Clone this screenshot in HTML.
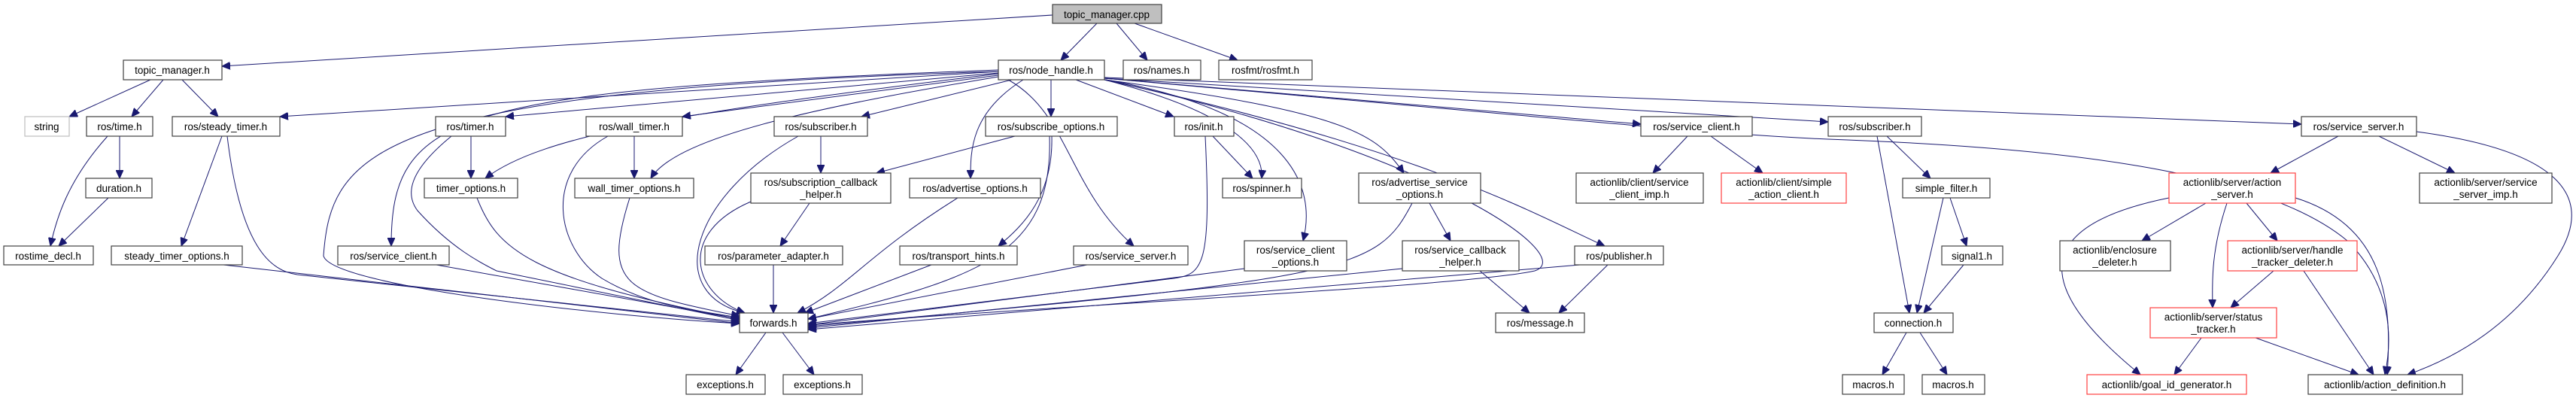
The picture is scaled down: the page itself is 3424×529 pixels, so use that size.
<!DOCTYPE html>
<html><head><meta charset="utf-8"><style>
html,body{margin:0;padding:0;background:#fff;}
svg{display:block;}
text{font-family:"Liberation Sans","DejaVu Sans",sans-serif;font-size:13.5px;fill:#000;}
.n{fill:#fff;stroke:#404040;stroke-width:1.2;}
.r{fill:#fff;stroke:#ff4040;stroke-width:1.2;}
.g{fill:#fff;stroke:#bfbfbf;stroke-width:1.2;}
.c{fill:#bfbfbf;stroke:#404040;stroke-width:1.2;}
path{fill:none;stroke:#191970;stroke-width:1;}
</style></head><body>
<svg width="3424" height="529" viewBox="0 0 3424 529" xmlns="http://www.w3.org/2000/svg">
<defs><marker id="a" markerUnits="userSpaceOnUse" markerWidth="12" markerHeight="10" refX="11" refY="5" orient="auto"><polygon points="0,0 11,5 0,10" fill="#191970" stroke="#191970"/></marker></defs>
<g marker-end="url(#a)">
<path d="M1399,20 L295,88"/>
<path d="M1458,31 L1410,80"/>
<path d="M1484,31 L1525,80"/>
<path d="M1508,31 L1645,80"/>
<path d="M200,106 L92,155"/>
<path d="M217,106 L175,155"/>
<path d="M242,106 L290,155"/>
<path d="M159,181 L159,237"/>
<path d="M143,181 C90,240 75,290 67,327"/>
<path d="M144,263 L78,327"/>
<path d="M295,181 L241,327"/>
<path d="M302,181 C320,330 360,360 395,365 L983,428"/>
<path d="M297,352 L983,430"/>
<path d="M626,181 L626,237"/>
<path d="M600,181 C540,230 540,260 555,280 C600,330 640,350 660,360 L983,426"/>
<path d="M634,263 C660,330 700,370 983,424"/>
<path d="M843,181 L843,237"/>
<path d="M808,181 C720,230 740,330 800,370 C850,400 900,410 983,422"/>
<path d="M837,263 C800,380 830,390 983,420"/>
<path d="M1091,181 L1091,230"/>
<path d="M1061,181 C920,260 880,390 990,416"/>
<path d="M1349,181 L1165,230"/>
<path d="M1398,181 C1400,260 1360,300 1327,327"/>
<path d="M1395,181 C1400,340 1300,370 1074,424"/>
<path d="M1076,270 L1037,327"/>
<path d="M998,268 C900,310 920,390 990,416"/>
<path d="M1028,352 L1028,416"/>
<path d="M1273,263 C1150,340 1130,380 1060,416"/>
<path d="M1238,352 L1070,416"/>
<path d="M1327,95 L372,155"/>
<path d="M1327,97 L672,155"/>
<path d="M1327,100 L907,155"/>
<path d="M1345,106 L1145,155"/>
<path d="M1397,106 L1397,155"/>
<path d="M1327,98 C900,150 720,180 645,237"/>
<path d="M1327,102 C1100,140 900,180 865,237"/>
<path d="M1327,93 C600,120 520,150 520,327"/>
<path d="M1327,95 C500,120 440,200 430,340 C440,380 800,420 983,430"/>
<path d="M1360,106 C1290,150 1290,200 1290,237"/>
<path d="M1340,106 C1420,150 1420,250 1507,327"/>
<path d="M1430,106 L1560,155"/>
<path d="M1468,106 C1640,150 1680,200 1677,237"/>
<path d="M1470,106 C1720,150 1750,250 1732,320"/>
<path d="M1468,106 C1800,150 1830,180 1866,230"/>
<path d="M1468,104 L2181,165"/>
<path d="M1468,104 L2430,162"/>
<path d="M1468,103 L3059,165"/>
<path d="M1468,106 C1900,200 2050,290 2133,327"/>
<path d="M1468,106 C1900,200 2100,340 2040,360 C1950,380 1500,400 1074,432"/>
<path d="M1468,104 C2100,160 2300,180 2430,185 C2700,195 3000,220 3120,320 C3180,380 3180,450 3170,498"/>
<path d="M1612,181 L1665,237"/>
<path d="M1602,181 C1610,350 1600,365 1560,370 L1074,430"/>
<path d="M1445,352 L1074,424"/>
<path d="M580,352 L983,424"/>
<path d="M1654,357 L1074,432"/>
<path d="M1877,270 C1830,360 1800,370 1074,434"/>
<path d="M1900,270 L1928,320"/>
<path d="M1864,357 L1074,436"/>
<path d="M1967,360 L2033,416"/>
<path d="M2100,352 L1074,438"/>
<path d="M2137,352 L2072,416"/>
<path d="M1018,442 L978,498"/>
<path d="M1040,442 L1082,498"/>
<path d="M2243,181 L2197,230"/>
<path d="M2274,181 L2343,230"/>
<path d="M2495,181 L2538,416"/>
<path d="M2508,181 L2566,237"/>
<path d="M2583,263 L2548,416"/>
<path d="M2592,263 L2614,327"/>
<path d="M2610,352 L2557,416"/>
<path d="M2534,442 L2502,498"/>
<path d="M2552,442 L2588,498"/>
<path d="M3108,181 L3018,230"/>
<path d="M3162,181 L3263,230"/>
<path d="M3212,175 C3400,200 3450,260 3400,340 C3350,420 3280,470 3200,498"/>
<path d="M2932,270 L2847,320"/>
<path d="M2986,270 L3027,320"/>
<path d="M2960,270 C2940,330 2940,370 2941,409"/>
<path d="M3051,263 C3170,300 3180,400 3173,498"/>
<path d="M2883,263 C2700,300 2700,380 2845,498"/>
<path d="M3022,360 L2965,409"/>
<path d="M3062,360 L3155,498"/>
<path d="M2926,449 L2890,498"/>
<path d="M2998,449 L3135,498"/>
</g>
<g text-anchor="middle">
<rect class="c" x="1399" y="6" width="145" height="25"/><text x="1471" y="24">topic_manager.cpp</text>
<rect class="n" x="164" y="80" width="131" height="26"/><text x="229" y="98">topic_manager.h</text>
<rect class="n" x="1327" y="80" width="141" height="26"/><text x="1397" y="98">ros/node_handle.h</text>
<rect class="n" x="1493" y="80" width="103" height="26"/><text x="1544" y="98">ros/names.h</text>
<rect class="n" x="1620" y="80" width="124" height="26"/><text x="1682" y="98">rosfmt/rosfmt.h</text>
<rect class="g" x="33" y="155" width="59" height="26"/><text x="62" y="173">string</text>
<rect class="n" x="115" y="155" width="88" height="26"/><text x="159" y="173">ros/time.h</text>
<rect class="n" x="229" y="155" width="143" height="26"/><text x="300" y="173">ros/steady_timer.h</text>
<rect class="n" x="579" y="155" width="93" height="26"/><text x="625" y="173">ros/timer.h</text>
<rect class="n" x="779" y="155" width="128" height="26"/><text x="843" y="173">ros/wall_timer.h</text>
<rect class="n" x="1029" y="155" width="124" height="26"/><text x="1091" y="173">ros/subscriber.h</text>
<rect class="n" x="1310" y="155" width="175" height="26"/><text x="1397" y="173">ros/subscribe_options.h</text>
<rect class="n" x="1561" y="155" width="79" height="26"/><text x="1600" y="173">ros/init.h</text>
<rect class="n" x="2181" y="155" width="148" height="26"/><text x="2255" y="173">ros/service_client.h</text>
<rect class="n" x="2430" y="155" width="124" height="26"/><text x="2492" y="173">ros/subscriber.h</text>
<rect class="n" x="3059" y="155" width="153" height="26"/><text x="3135" y="173">ros/service_server.h</text>
<rect class="n" x="114" y="237" width="88" height="26"/><text x="158" y="255">duration.h</text>
<rect class="n" x="564" y="237" width="124" height="26"/><text x="626" y="255">timer_options.h</text>
<rect class="n" x="764" y="237" width="158" height="26"/><text x="843" y="255">wall_timer_options.h</text>
<rect class="n" x="998" y="230" width="186" height="40"/><text x="1091" y="247">ros/subscription_callback</text><text x="1091" y="263">_helper.h</text>
<rect class="n" x="1209" y="237" width="174" height="26"/><text x="1296" y="255">ros/advertise_options.h</text>
<rect class="n" x="1625" y="237" width="105" height="26"/><text x="1677" y="255">ros/spinner.h</text>
<rect class="n" x="1806" y="230" width="162" height="40"/><text x="1887" y="247">ros/advertise_service</text><text x="1887" y="263">_options.h</text>
<rect class="n" x="2095" y="230" width="169" height="40"/><text x="2179" y="247">actionlib/client/service</text><text x="2179" y="263">_client_imp.h</text>
<rect class="r" x="2288" y="230" width="166" height="40"/><text x="2371" y="247">actionlib/client/simple</text><text x="2371" y="263">_action_client.h</text>
<rect class="n" x="2529" y="237" width="116" height="26"/><text x="2587" y="255">simple_filter.h</text>
<rect class="r" x="2883" y="230" width="168" height="40"/><text x="2967" y="247">actionlib/server/action</text><text x="2967" y="263">_server.h</text>
<rect class="n" x="3216" y="230" width="176" height="40"/><text x="3304" y="247">actionlib/server/service</text><text x="3304" y="263">_server_imp.h</text>
<rect class="n" x="5" y="327" width="119" height="25"/><text x="64" y="345">rostime_decl.h</text>
<rect class="n" x="148" y="327" width="174" height="25"/><text x="235" y="345">steady_timer_options.h</text>
<rect class="n" x="449" y="327" width="148" height="25"/><text x="523" y="345">ros/service_client.h</text>
<rect class="n" x="937" y="327" width="183" height="25"/><text x="1028" y="345">ros/parameter_adapter.h</text>
<rect class="n" x="1196" y="327" width="156" height="25"/><text x="1274" y="345">ros/transport_hints.h</text>
<rect class="n" x="1427" y="327" width="152" height="25"/><text x="1503" y="345">ros/service_server.h</text>
<rect class="n" x="1654" y="320" width="136" height="40"/><text x="1722" y="337">ros/service_client</text><text x="1722" y="353">_options.h</text>
<rect class="n" x="1864" y="320" width="155" height="40"/><text x="1941" y="337">ros/service_callback</text><text x="1941" y="353">_helper.h</text>
<rect class="n" x="2093" y="327" width="118" height="25"/><text x="2152" y="345">ros/publisher.h</text>
<rect class="n" x="2581" y="327" width="81" height="25"/><text x="2621" y="345">signal1.h</text>
<rect class="n" x="2738" y="320" width="147" height="40"/><text x="2811" y="337">actionlib/enclosure</text><text x="2811" y="353">_deleter.h</text>
<rect class="r" x="2961" y="320" width="172" height="40"/><text x="3047" y="337">actionlib/server/handle</text><text x="3047" y="353">_tracker_deleter.h</text>
<rect class="n" x="983" y="416" width="91" height="26"/><text x="1028" y="434">forwards.h</text>
<rect class="n" x="1988" y="416" width="118" height="26"/><text x="2047" y="434">ros/message.h</text>
<rect class="n" x="2491" y="416" width="105" height="26"/><text x="2543" y="434">connection.h</text>
<rect class="r" x="2858" y="409" width="168" height="40"/><text x="2942" y="426">actionlib/server/status</text><text x="2942" y="442">_tracker.h</text>
<rect class="n" x="912" y="498" width="105" height="26"/><text x="964" y="516">exceptions.h</text>
<rect class="n" x="1041" y="498" width="105" height="26"/><text x="1093" y="516">exceptions.h</text>
<rect class="n" x="2449" y="498" width="82" height="26"/><text x="2490" y="516">macros.h</text>
<rect class="n" x="2555" y="498" width="83" height="26"/><text x="2596" y="516">macros.h</text>
<rect class="r" x="2774" y="498" width="212" height="26"/><text x="2880" y="516">actionlib/goal_id_generator.h</text>
<rect class="n" x="3068" y="498" width="205" height="26"/><text x="3170" y="516">actionlib/action_definition.h</text>
</g>
</svg>
</body></html>
